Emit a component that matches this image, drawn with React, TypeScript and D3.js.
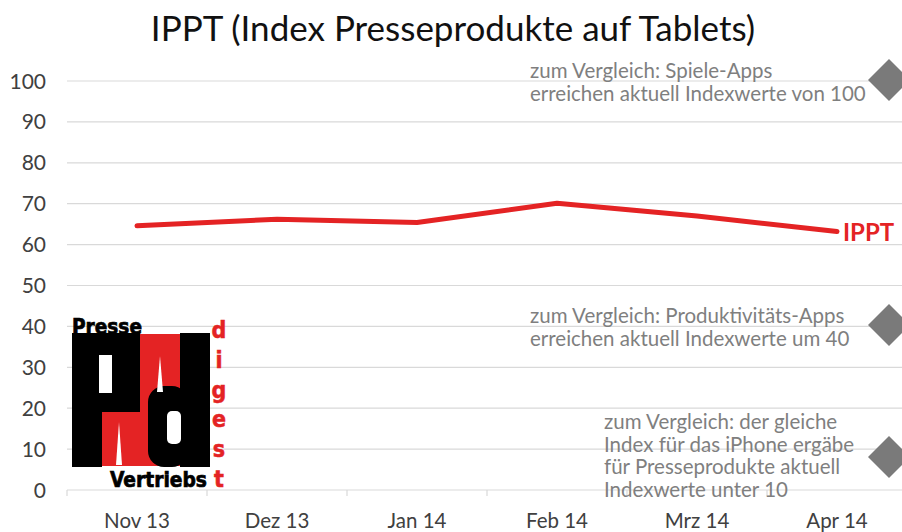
import React from "react";
import * as d3 from "d3";

const months = ["Nov 13", "Dez 13", "Jan 14", "Feb 14", "Mrz 14", "Apr 14"];
const ipptValues = [64.6, 66.2, 65.4, 70.1, 67.0, 63.2];
const yTicks = [0, 10, 20, 30, 40, 50, 60, 70, 80, 90, 100];
const seriesLabel = "IPPT";
const title = "IPPT (Index Presseprodukte auf Tablets)";

const comparisons = [
  { value: 100, lines: ["zum Vergleich: Spiele-Apps", "erreichen aktuell Indexwerte von 100"] },
  { value: 40, lines: ["zum Vergleich: Produktivitäts-Apps", "erreichen aktuell Indexwerte um 40"] },
  {
    value: 8,
    lines: [
      "zum Vergleich: der gleiche",
      "Index für das iPhone ergäbe",
      "für Presseprodukte aktuell",
      "Indexwerte unter 10",
    ],
  },
];

const W = 902;
const H = 532;
const FONT = "Lato, 'Open Sans', sans-serif";

function Logo() {
  const red = "#e42324";
  const cond = "'DejaVu Sans Condensed', 'Liberation Sans Narrow', 'DejaVu Sans', sans-serif";
  const digest = ["d", "i", "g", "e", "s", "t"];
  return (
    <g>
      <rect x={100} y={334} width={82} height={132} fill={red} />
      {/* P */}
      <rect x={72} y={333} width={68} height={79} fill="#000" />
      <rect x={72} y={333} width={30} height={134} fill="#000" />
      <rect x={99} y={355} width={13} height={38} fill="#fff" />
      <polygon points="116,465 122,465 119,422" fill="#fff" />
      {/* d */}
      <rect x={180} y={333} width={30} height={134} fill="#000" />
      <rect x={148} y={386} width={40} height={81} rx={16} fill="#000" />
      <rect x={167} y={411} width={14} height={33} rx={5} fill="#fff" />
      <polygon points="157,392 163,392 160,356" fill="#fff" />
      <text x={72} y={334} fontFamily={cond} fontWeight="bold" fontSize={22} textLength={70} lengthAdjust="spacingAndGlyphs" fill="#000" stroke="#000" strokeWidth={0.7}>
        Presse
      </text>
      <text x={110} y={487} fontFamily={cond} fontWeight="bold" fontSize={22} textLength={97} lengthAdjust="spacingAndGlyphs" fill="#000" stroke="#000" strokeWidth={0.7}>
        Vertriebs
      </text>
      {digest.map((c, i) => (
        <text
          key={i}
          x={219}
          y={338 + i * 29.8}
          textAnchor="middle"
          fontFamily={cond}
          fontWeight="bold"
          fontSize={23}
          fill={red}
          stroke={red}
          strokeWidth={0.5}
        >
          {c}
        </text>
      ))}
    </g>
  );
}

export default function App() {
  const x = d3.scaleBand<string>().domain(months).range([67, 907]);
  const y = d3.scaleLinear().domain([0, 100]).range([490, 81]);
  const line = d3
    .line<number>()
    .x((_, i) => (x(months[i]) as number) + x.bandwidth() / 2)
    .y((d) => y(d))
    .curve(d3.curveLinear);

  const lastX = (x(months[months.length - 1]) as number) + x.bandwidth() / 2;
  const lastY = y(ipptValues[ipptValues.length - 1]);

  const tickBoundaries = months.map((m) => x(m) as number).concat([907]);
  const diamondY = [80, 325, 457];

  return (
    <svg width={W} height={H} style={{ position: "absolute", left: 0, top: 0, background: "#fff" }}>
      <rect width={W} height={H} fill="#fff" />
      <text x={453} y={41} textAnchor="middle" fontFamily={FONT} fontSize={35} fill="#111">
        {title}
      </text>
      {/* grid */}
      {yTicks.map((t) => (
        <g key={t}>
          {t > 0 && <line x1={67} x2={902} y1={y(t)} y2={y(t)} stroke="#d9d9d9" strokeWidth={1.2} />}
          <text x={46} y={y(t) + 7.5} textAnchor="end" fontFamily={FONT} fontSize={21} fill="#404040">
            {t}
          </text>
        </g>
      ))}
      {/* x axis */}
      <line x1={67} x2={902} y1={y(0)} y2={y(0)} stroke="#d9d9d9" strokeWidth={1.2} />
      {tickBoundaries.map((b, i) => (
        <line key={i} x1={b} x2={b} y1={y(0)} y2={y(0) + 6} stroke="#d9d9d9" strokeWidth={1.2} />
      ))}
      {months.map((m) => (
        <text key={m} x={(x(m) as number) + x.bandwidth() / 2} y={528} textAnchor="middle" fontFamily={FONT} fontSize={20.5} fill="#404040">
          {m}
        </text>
      ))}
      <Logo />
      {/* comparisons */}
      {comparisons.map((c, ci) => {
        const cy = y(c.value);
        const nLines = c.lines.length;
        const tx = nLines > 2 ? 604 : 530;
        const baseY = nLines > 2 ? 429 : cy - 3;
        return (
          <g key={ci}>
            {c.lines.map((l, li) => (
              <text key={li} x={tx} y={baseY + li * 22.5} fontFamily={FONT} fontSize={20.5} fill="#7f7f7f">
                {l}
              </text>
            ))}
            <path
              d={d3.symbol().type(d3.symbolSquare).size(2 * 21 * 21)() as string}
              transform={`translate(889,${diamondY[ci]}) rotate(45)`}
              fill="#7a7a7a"
            />
          </g>
        );
      })}
      {/* series */}
      <path d={line(ipptValues) as string} fill="none" stroke="#e42324" strokeWidth={5} strokeLinejoin="round" strokeLinecap="round" />
      <text x={lastX + 6} y={lastY + 9} fontFamily={FONT} fontWeight="bold" fontSize={24} fill="#e42324">
        {seriesLabel}
      </text>
    </svg>
  );
}
